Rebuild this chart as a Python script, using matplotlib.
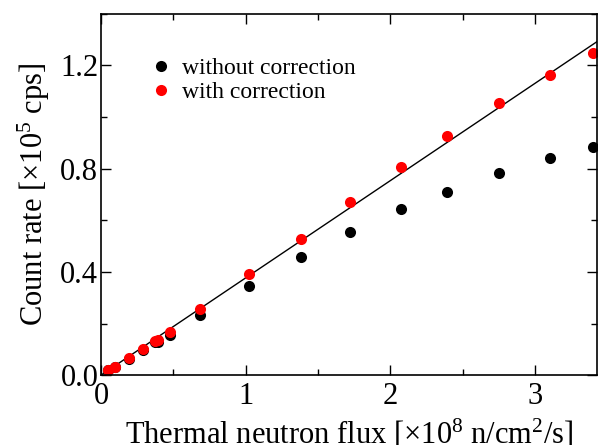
import matplotlib
matplotlib.use('Agg')
import matplotlib.pyplot as plt
from matplotlib.ticker import MultipleLocator
import numpy as np

plt.rcParams['font.family'] = ['Liberation Serif', 'DejaVu Serif']
plt.rcParams['mathtext.fontset'] = 'custom'
plt.rcParams['mathtext.rm'] = 'Liberation Serif'
plt.rcParams['mathtext.it'] = 'Liberation Serif:italic'

# thermal neutron flux [x1e8 n/cm2/s]
flux = [0.05, 0.097, 0.195, 0.292, 0.372, 0.395, 0.476, 0.683, 1.023,
        1.384, 1.72, 2.07, 2.389, 2.747, 3.105, 3.40]
# count rate [x1e5 cps]
rate_raw = [0.018, 0.031, 0.064, 0.097, 0.127, 0.130, 0.155, 0.233, 0.347,
            0.456, 0.553, 0.642, 0.711, 0.784, 0.843, 0.885]
rate_corr = [0.019, 0.032, 0.067, 0.101, 0.133, 0.136, 0.168, 0.256, 0.392,
             0.528, 0.671, 0.805, 0.928, 1.054, 1.164, 1.247]
# linear fit through origin
slope = 0.377

fig = plt.figure(figsize=(5.98, 4.45), dpi=100)
ax = fig.add_axes([0.169, 0.157, 0.830, 0.812])

xfit = np.array([0, 3.43])
ax.plot(xfit, slope * xfit, color='black', lw=1.0)
ax.plot(flux, rate_raw, 'o', color='black', ms=8, mec='none', label='without correction')
ax.plot(flux, rate_corr, 'o', color='#ff0000', ms=8, mec='none', label='with correction')

ax.set_xlim(0, 3.43)
ax.set_ylim(0, 1.4)
ax.xaxis.set_major_locator(MultipleLocator(1))
ax.xaxis.set_minor_locator(MultipleLocator(0.5))
ax.yaxis.set_major_locator(MultipleLocator(0.4))
ax.yaxis.set_minor_locator(MultipleLocator(0.2))
ax.set_xticks([0, 1, 2, 3], ['0', '1', '2', '3'])
ax.set_yticks([0.0, 0.4, 0.8, 1.2], ['0.0', '0.4', '0.8', '1.2'])
ax.tick_params(which='both', direction='in', top=True, right=True, labelsize=22, width=1)
ax.tick_params(which='major', length=7)
ax.tick_params(axis='x', which='major', pad=5)
ax.tick_params(axis='y', which='major', pad=2)
ax.tick_params(which='minor', length=4)
for s in ax.spines.values():
    s.set_linewidth(1.2)

ax.set_xlabel(r'Thermal neutron flux [×10$^{8}$ n/cm$^{2}$/s]', fontsize=22, labelpad=5)
ax.set_ylabel(r'Count rate [×10$^{5}$ cps]', fontsize=22, labelpad=6)

ax.legend(loc='upper left', bbox_to_anchor=(0.078, 0.905), frameon=False, fontsize=17,
          handletextpad=0.4, labelspacing=0.1, borderaxespad=0, handlelength=1.0)

fig.savefig('out.png', dpi=100)
